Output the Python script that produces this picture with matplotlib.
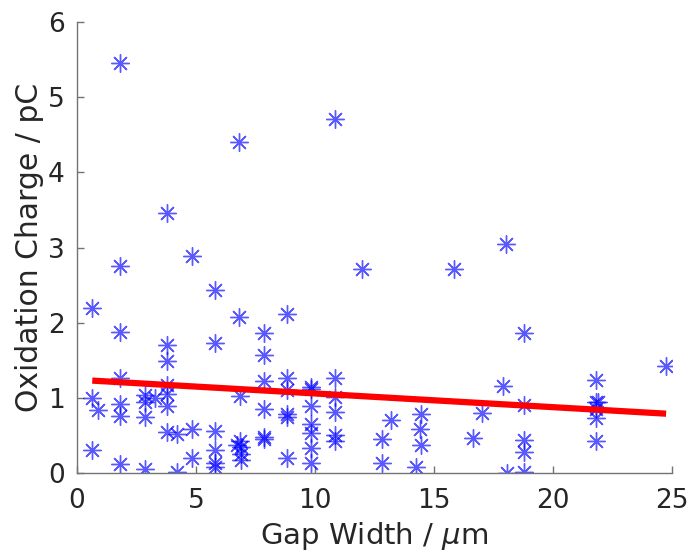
import numpy as np
import matplotlib
matplotlib.use("Agg")
import matplotlib.pyplot as plt

# Datos
gap_width = [
    0.64, 0.64, 0.90, 0.64,
    1.81, 1.81, 1.81, 1.81, 1.81, 1.81, 1.81,
    2.86, 2.86, 2.86, 2.86, 3.28,
    3.80, 3.80, 3.80, 3.80, 3.80, 3.80, 3.80,
    4.21, 4.21, 4.82, 4.85, 4.85,
    5.80, 5.80, 5.80, 5.80, 5.80, 5.80,
    6.82, 6.82, 6.85, 6.71, 6.85, 6.90, 6.90, 6.90,
    7.86, 7.86, 7.86, 7.86, 7.86, 7.86,
    8.81, 8.81, 8.81, 8.81, 8.81, 8.81,
    9.84, 9.84, 9.84, 9.84, 9.84, 9.84, 9.84,
    10.84, 10.84, 10.84, 10.84, 10.84, 10.84,
    11.96, 12.80, 12.80, 13.18,
    14.44, 14.39, 14.44, 14.24,
    15.84, 16.63, 17.00, 17.89, 18.03, 18.05,
    18.78, 18.78, 18.78, 18.78, 18.78,
    21.81, 21.81, 21.90, 21.81, 21.81, 21.81,
    24.75,
]
ox_charge = [
    2.19, 1.00, 0.84, 0.31,
    5.45, 2.75, 1.88, 1.26, 0.92, 0.76, 0.12,
    1.04, 0.95, 0.74, 0.06, 1.00,
    3.46, 1.70, 1.49, 1.17, 1.05, 0.89, 0.54,
    0.52, 0.02, 2.89, 0.58, 0.20,
    2.44, 1.73, 0.56, 0.31, 0.14, 0.08,
    4.41, 2.08, 1.02, 0.37, 0.42, 0.35, 0.25, 0.18,
    1.86, 1.57, 1.22, 0.85, 0.48, 0.45,
    2.12, 1.27, 1.10, 0.78, 0.75, 0.20,
    1.14, 1.12, 0.89, 0.65, 0.53, 0.33, 0.14,
    4.71, 1.27, 1.01, 0.81, 0.50, 0.42,
    2.71, 0.45, 0.14, 0.70,
    0.78, 0.59, 0.38, 0.08,
    2.71, 0.46, 0.80, 1.16, 3.05, 0.00,
    1.86, 0.90, 0.44, 0.28, 0.02,
    1.24, 0.95, 0.94, 0.85, 0.73, 0.42,
    1.43,
]

# Recta de ajuste (extremos)
fit_x = [0.64, 24.75]
fit_y = [1.23, 0.79]

fig = plt.figure(figsize=(6.9, 5.52), dpi=100)
ax = fig.add_axes([0.1116, 0.143, 0.8624, 0.817])

ax.plot(gap_width, ox_charge, linestyle='none', marker=(8, 2, 0),
        markersize=13, markeredgewidth=1.0, color=(0, 0, 1), alpha=0.65)
ax.plot(fit_x, fit_y, color='red', linewidth=4.5, solid_capstyle='butt')

ax.set_xlim(0, 25)
ax.set_ylim(0, 6)
ax.set_xticks([0, 5, 10, 15, 20, 25])
ax.set_yticks([0, 1, 2, 3, 4, 5, 6])

for s in ['top', 'right']:
    ax.spines[s].set_visible(False)
for s in ['left', 'bottom']:
    ax.spines[s].set_color('0.45')
    ax.spines[s].set_linewidth(1.0)

ax.tick_params(direction='in', length=5, width=1.0, color='0.45',
               labelsize=19, labelcolor='0.15')
ax.tick_params(axis='x', pad=11)
ax.tick_params(axis='y', pad=9)
ax.set_xlabel(r'Gap Width / $\mu$m', fontsize=21, color='0.15', labelpad=4)
ax.set_ylabel('Oxidation Charge / pC', fontsize=21.5, color='0.15', labelpad=3)

fig.savefig('out.png', dpi=100)
